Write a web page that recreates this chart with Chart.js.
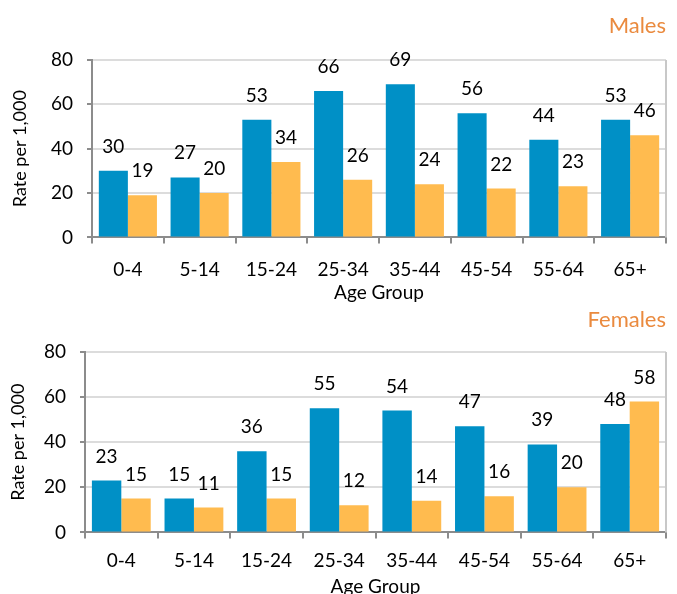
<!DOCTYPE html>
<html lang="en">
<head>
  <meta charset="UTF-8">
  <title>Rate per 1,000 by Age Group</title>
  <script src="https://cdn.jsdelivr.net/npm/chart.js"></script>
  <style>
    * { margin: 0; padding: 0; box-sizing: border-box; }
    body { width: 677px; height: 594px; background: #fff; overflow: hidden; position: relative; }
    .box { position: absolute; left: 0; width: 677px; }
    #top { top: 0; height: 305px; }
    #bottom { top: 300px; height: 299px; }
  </style>
</head>
<body>
  <div class="box" id="top"><canvas id="malesChart"></canvas></div>
  <div class="box" id="bottom"><canvas id="femalesChart"></canvas></div>

  <script>
    const ageGroups = ['0-4', '5-14', '15-24', '25-34', '35-44', '45-54', '55-64', '65+'];
    const yTicks = [0, 20, 40, 60, 80];

    const malesBlue = [30, 27, 53, 66, 69, 56, 44, 53];
    const malesOrange = [19, 20, 34, 26, 24, 22, 23, 46];

    const femalesBlue = [23, 15, 36, 55, 54, 47, 39, 48];
    const femalesOrange = [15, 11, 15, 12, 14, 16, 20, 58];

    const BLUE = '#0090c6';
    const ORANGE = '#ffbb4f';
    const FONT = 'Lato, "Noto Sans", sans-serif';

    // numbers above each bar
    const valueLabels = {
      id: 'valueLabels',
      afterDatasetsDraw(chart) {
        const ctx = chart.ctx;
        ctx.save();
        ctx.font = '19px ' + FONT;
        ctx.fillStyle = '#000';
        ctx.textAlign = 'center';
        ctx.textBaseline = 'alphabetic';
        chart.data.datasets.forEach((ds, i) => {
          chart.getDatasetMeta(i).data.forEach((bar, j) => {
            ctx.fillText(ds.data[j], bar.x, bar.y - 18);
          });
        });
        ctx.restore();
      }
    };

    // grey frame on the right of the plot area
    const rightBorder = {
      id: 'rightBorder',
      beforeDatasetsDraw(chart) {
        const { ctx, chartArea } = chart;
        ctx.save();
        ctx.strokeStyle = '#c8c8c8';
        ctx.lineWidth = 2;
        ctx.beginPath();
        ctx.moveTo(chartArea.right, chartArea.top);
        ctx.lineTo(chartArea.right, chartArea.bottom);
        ctx.stroke();
        ctx.restore();
      }
    };

    function makeChart(id, title, blue, orange, opts) {
      return new Chart(document.getElementById(id), {
        type: 'bar',
        data: {
          labels: ageGroups,
          datasets: [
            { data: blue, backgroundColor: BLUE, categoryPercentage: 0.81, barPercentage: 1.0 },
            { data: orange, backgroundColor: ORANGE, categoryPercentage: 0.81, barPercentage: 1.0 }
          ]
        },
        options: {
          responsive: true,
          maintainAspectRatio: false,
          animation: false,
          layout: { padding: { left: 0, right: 11, top: 0, bottom: opts.padBottom } },
          plugins: {
            legend: { display: false },
            tooltip: { enabled: false },
            title: {
              display: true,
              text: title,
              align: 'end',
              color: '#ea8a3e',
              font: { family: FONT, size: 22, weight: 'normal' },
              padding: { top: opts.titleTop, bottom: opts.titleBottom }
            }
          },
          scales: {
            x: {
              grid: { drawOnChartArea: false, drawTicks: true, tickLength: 6, tickColor: '#8c8c8c', lineWidth: 2 },
              border: { color: '#8c8c8c', width: 2 },
              ticks: { color: '#000', font: { family: FONT, size: 19 }, padding: opts.xPad },
              title: { display: true, text: 'Age Group', color: '#000', font: { family: FONT, size: 19 }, padding: { top: opts.xTitlePad, bottom: 0 } }
            },
            y: {
              min: 0,
              max: 80,
              afterBuildTicks: axis => { axis.ticks = yTicks.map(v => ({ value: v })); },
              afterFit: axis => { axis.width = opts.yWidth; },
              grid: { color: '#dcdcdc', lineWidth: 2, tickLength: 5, tickColor: '#8c8c8c' },
              border: { color: '#8c8c8c', width: 2 },
              ticks: { color: '#000', font: { family: FONT, size: 19 }, padding: 14 },
              title: { display: true, text: 'Rate per 1,000', color: '#000', font: { family: FONT, size: 18 }, padding: { top: opts.yTitlePad, bottom: 0 } }
            }
          }
        },
        plugins: [rightBorder, valueLabels]
      });
    }

    makeChart('malesChart', 'Males', malesBlue, malesOrange,
      { padBottom: 1, titleTop: 13, titleBottom: 20.5, xPad: 15, xTitlePad: -15, yWidth: 92, yTitlePad: 9 });
    makeChart('femalesChart', 'Females', femalesBlue, femalesOrange,
      { padBottom: 1, titleTop: 7, titleBottom: 18.5, xPad: 11.5, xTitlePad: -9, yWidth: 85, yTitlePad: 7 });
  </script>
</body>
</html>
